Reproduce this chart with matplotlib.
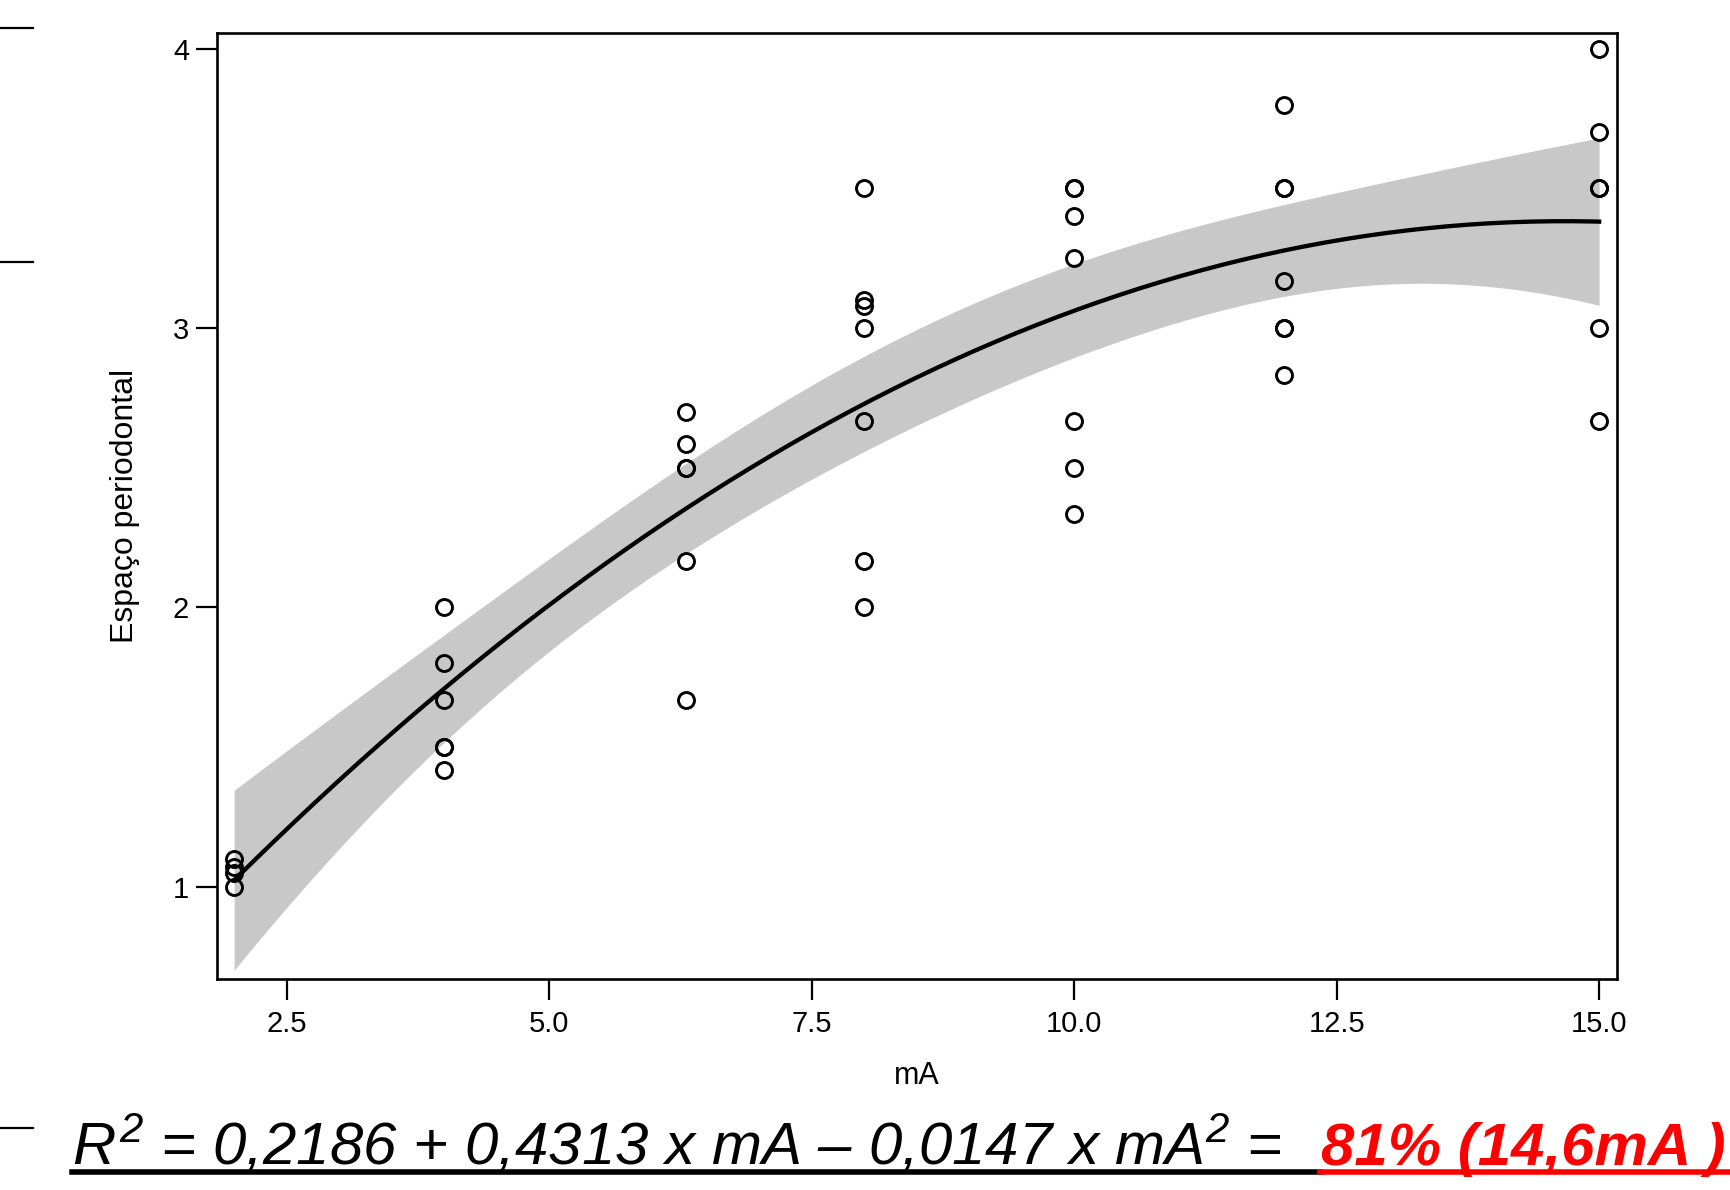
import numpy as np
import matplotlib.pyplot as plt
from matplotlib.lines import Line2D

plt.rcParams['font.family'] = ['Liberation Sans', 'DejaVu Sans']
plt.rcParams['mathtext.fontset'] = 'custom'
plt.rcParams['mathtext.it'] = 'Liberation Sans:italic'
plt.rcParams['mathtext.rm'] = 'Liberation Sans:italic'

# dose levels (mA) and measured periodontal space at each level
doses = [2.0, 4.0, 6.3, 8.0, 10.0, 12.0, 15.0]
esp_2 = [1.0, 1.05, 1.07, 1.1]
esp_4 = [2.0, 1.8, 1.667, 1.5, 1.5, 1.417]
esp_63 = [2.7, 2.583, 2.5, 2.5, 2.167, 1.667]
esp_8 = [3.5, 3.1, 3.08, 3.0, 2.667, 2.167, 2.0]
esp_10 = [3.5, 3.5, 3.4, 3.25, 2.667, 2.5, 2.333]
esp_12 = [3.8, 3.5, 3.5, 3.167, 3.0, 3.0, 2.833]
esp_15 = [4.0, 3.7, 3.5, 3.5, 3.0, 2.667]
groups = [esp_2, esp_4, esp_63, esp_8, esp_10, esp_12, esp_15]

# quadratic fit coefficients as printed under the chart
b0, b1, b2 = 0.2186, 0.4313, -0.0147

xs = np.concatenate([[d] * len(g) for d, g in zip(doses, groups)])
ys = np.concatenate(groups)

# 95% confidence band of the fitted mean
X = np.column_stack([np.ones_like(xs), xs, xs ** 2])
beta = np.array([b0, b1, b2])
resid = ys - X @ beta
dof = len(ys) - 3
s2 = (resid @ resid) / dof
XtX_inv = np.linalg.inv(X.T @ X)
xg = np.linspace(min(doses), max(doses), 200)
Xg = np.column_stack([np.ones_like(xg), xg, xg ** 2])
fit = Xg @ beta
se = np.sqrt(s2 * np.einsum('ij,jk,ik->i', Xg, XtX_inv, Xg))
tq = 2.03
lo, hi = fit - tq * se, fit + tq * se

W, H = 1731, 1190
fig = plt.figure(figsize=(W / 100, H / 100), dpi=100)
ax = fig.add_axes([217 / W, 1 - 979 / H, 1400 / W, 946 / H])

ax.fill_between(xg, lo, hi, color='#c8c8c8', linewidth=0, zorder=1)
ax.plot(xg, fit, color='black', linewidth=3.1, zorder=2)
ax.plot(xs, ys, linestyle='none', marker='o', markersize=11.5,
        markerfacecolor='none', markeredgecolor='black', markeredgewidth=2.1, zorder=3)

ax.set_xlim(1.837, 15.17)
ax.set_ylim(0.669, 4.056)
ax.set_xticks([2.5, 5.0, 7.5, 10.0, 12.5, 15.0])
ax.set_xticklabels(['2.5', '5.0', '7.5', '10.0', '12.5', '15.0'])
ax.set_yticks([1, 2, 3, 4])
ax.tick_params(direction='out', length=15, width=1.6, labelsize=21, pad=5)
ax.tick_params(axis='x', pad=7)
for sp in ax.spines.values():
    sp.set_linewidth(1.9)

ax.set_xlabel('mA', fontsize=22, labelpad=17)
ax.set_ylabel('Espaço periodontal', fontsize=23, labelpad=24)

# slide leftovers: short rules at the left edge
for yy in [28, 262, 1128]:
    fig.add_artist(Line2D([0, 33 / W], [1 - yy / H] * 2, color='black', linewidth=1.6))

# equation under the chart
base = 1 - 1165 / H
fig.text(72 / W, base, '$R^{2}$ = 0,2186 + 0,4313 x mA \u2013 0,0147 x mA$^{2}$ = ',
         fontsize=43.2, style='italic', va='baseline', ha='left', color='black')
fig.text(1321 / W, base, '81% (14,6mA )', fontsize=43.2, style='italic',
         fontweight='bold', va='baseline', ha='left', color='#ff0000')
uy = 1 - 1172 / H
fig.add_artist(Line2D([72 / W, 1320 / W], [uy, uy], color='black', linewidth=4))
fig.add_artist(Line2D([1320 / W, 1.0], [uy, uy], color='#ff0000', linewidth=4))

fig.savefig('out.png', dpi=100)
